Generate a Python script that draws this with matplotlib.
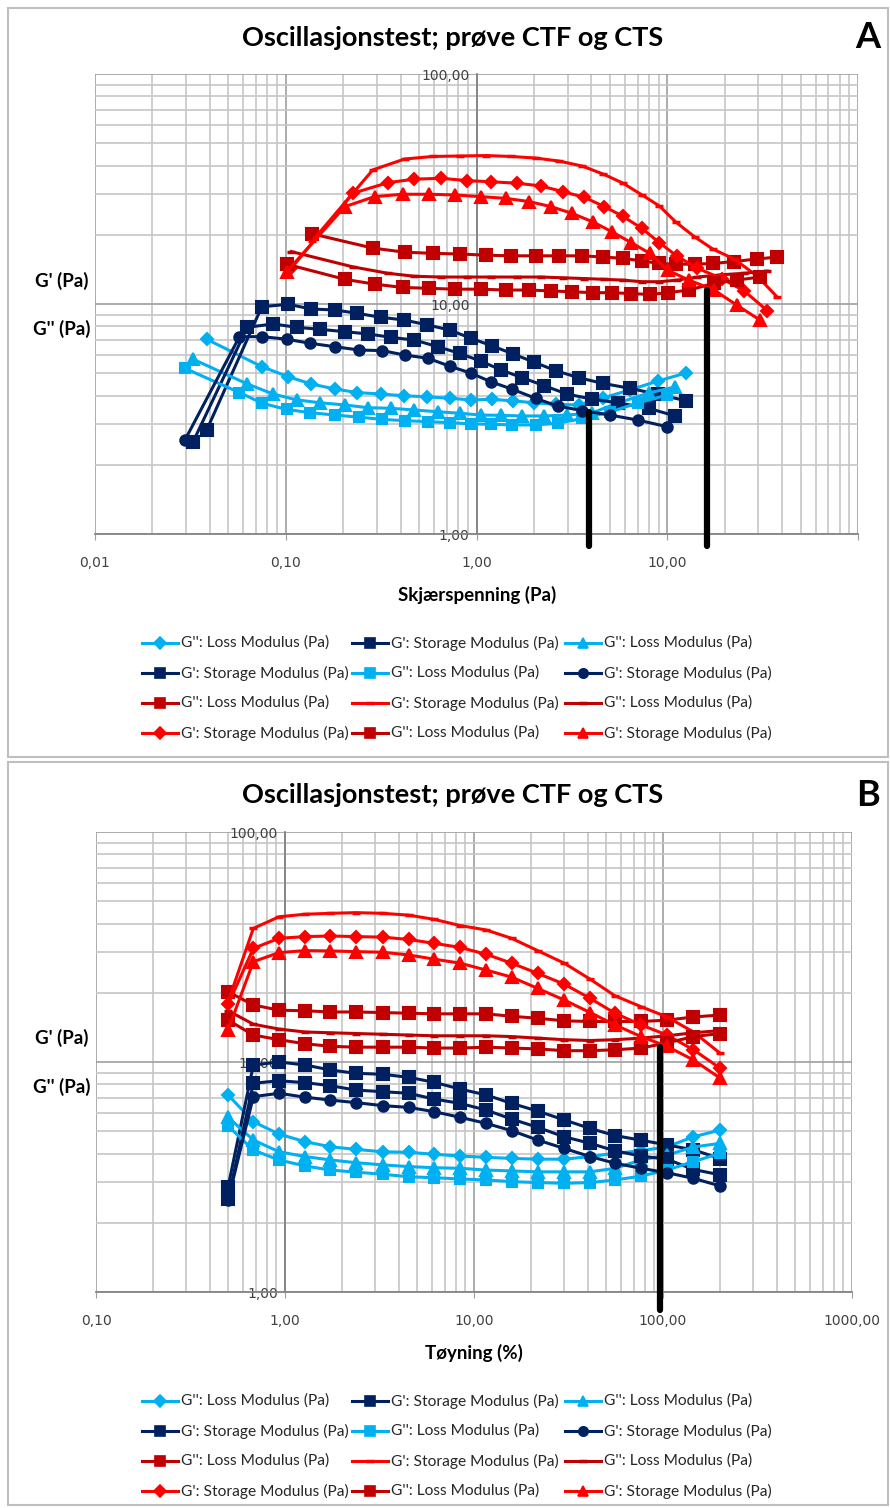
import matplotlib
matplotlib.use("Agg")
import matplotlib.pyplot as plt
from matplotlib.lines import Line2D
from matplotlib.patches import Rectangle
from matplotlib.ticker import LogLocator, FuncFormatter, NullFormatter

# ---------------- data: panel A (shear stress sweep) ----------------
a_x1 = [0.0385, 0.0749, 0.103, 0.136, 0.181, 0.237, 0.316, 0.418, 0.553, 0.722,
        0.938, 1.21, 1.56, 2.01, 2.60, 3.44, 4.58, 6.36, 8.90, 12.5]
a_loss1 = [7.03, 5.34, 4.83, 4.49, 4.27, 4.12, 4.06, 3.99, 3.95, 3.89,
           3.83, 3.85, 3.79, 3.72, 3.66, 3.64, 3.90, 4.23, 4.62, 5.01]
a_stor1 = [2.83, 9.73, 9.97, 9.51, 9.42, 9.11, 8.75, 8.52, 8.11, 7.71,
           7.09, 6.57, 6.06, 5.58, 5.13, 4.78, 4.52, 4.30, 4.05, 3.80]

a_x2 = [0.0327, 0.0629, 0.0859, 0.114, 0.151, 0.204, 0.270, 0.357, 0.473, 0.627,
        0.815, 1.05, 1.35, 1.74, 2.27, 2.98, 4.03, 5.49, 7.98, 11.0]
a_loss2 = [5.75, 4.49, 4.06, 3.83, 3.72, 3.64, 3.54, 3.52, 3.46, 3.40,
           3.35, 3.29, 3.28, 3.26, 3.26, 3.29, 3.36, 3.71, 4.10, 4.36]
a_stor2 = [2.52, 7.92, 8.19, 7.92, 7.76, 7.58, 7.41, 7.16, 6.97, 6.52,
           6.10, 5.65, 5.16, 4.78, 4.41, 4.06, 3.86, 3.72, 3.52, 3.26]

a_x3 = [0.0296, 0.0572, 0.0755, 0.101, 0.134, 0.181, 0.242, 0.321, 0.420, 0.556,
        0.722, 0.938, 1.19, 1.54, 2.04, 2.66, 3.58, 5.01, 6.99, 9.96]
a_loss3 = [5.25, 4.12, 3.70, 3.48, 3.37, 3.29, 3.22, 3.15, 3.11, 3.08,
           3.05, 3.01, 3.00, 2.98, 2.98, 3.03, 3.18, 3.39, 3.71, 4.02]
a_stor3 = [2.56, 7.21, 7.21, 7.03, 6.75, 6.52, 6.31, 6.27, 6.00, 5.81,
           5.37, 5.00, 4.59, 4.26, 3.89, 3.60, 3.44, 3.29, 3.13, 2.93]

a_x4 = [0.137, 0.286, 0.420, 0.590, 0.818, 1.12, 1.52, 2.05, 2.72, 3.58,
        4.62, 5.83, 7.37, 9.08, 11.1, 13.9, 17.4, 22.4, 29.7, 37.8]
a_loss4 = [20.2, 17.5, 16.8, 16.6, 16.5, 16.3, 16.2, 16.2, 16.2, 16.2,
           16.0, 15.8, 15.4, 15.0, 14.9, 14.9, 15.0, 15.3, 15.7, 16.0]
a_stor4 = [18.7, 38.3, 42.7, 43.8, 44.0, 44.2, 43.8, 43.1, 41.8, 39.8,
           36.7, 33.6, 29.8, 26.7, 22.7, 19.6, 17.3, 15.7, 13.2, 10.7]

a_x5 = [0.107, 0.225, 0.343, 0.473, 0.653, 0.890, 1.19, 1.63, 2.18, 2.83,
        3.68, 4.68, 5.83, 7.37, 9.08, 11.3, 14.4, 19.3, 25.3, 33.5]
a_loss5 = [16.9, 14.5, 13.6, 13.2, 13.1, 13.1, 13.1, 13.1, 13.1, 13.0,
           12.9, 12.8, 12.7, 12.5, 12.5, 12.7, 13.1, 13.4, 13.6, 13.9]
a_stor5 = [14.3, 30.3, 33.7, 34.9, 35.2, 34.4, 34.0, 33.5, 32.6, 30.8,
           29.1, 26.5, 24.1, 21.3, 18.5, 16.1, 14.3, 12.9, 11.4, 9.35]

a_x6 = [0.101, 0.204, 0.292, 0.410, 0.564, 0.767, 1.05, 1.42, 1.88, 2.46,
        3.16, 4.10, 5.13, 6.46, 8.10, 10.1, 13.0, 17.6, 23.1, 30.6]
a_loss6 = [14.9, 12.8, 12.2, 11.8, 11.7, 11.6, 11.6, 11.5, 11.5, 11.4,
           11.3, 11.2, 11.2, 11.1, 11.0, 11.2, 11.5, 12.3, 12.7, 13.1]
a_stor6 = [13.8, 26.5, 29.3, 30.0, 30.0, 29.8, 29.3, 28.8, 27.9, 26.5,
           24.8, 22.7, 20.6, 18.5, 16.6, 14.0, 12.7, 11.5, 9.90, 8.52]

# crossover markers (x position, top of the bar)
a_cross_x = [3.9, 16.2]
a_cross_top = [3.4, 11.5]

# ---------------- data: panel B (strain) ----------------
b_x = [0.50, 0.68, 0.93, 1.28, 1.74, 2.37, 3.29, 4.51, 6.16, 8.43,
       11.6, 15.8, 21.7, 30.0, 41.2, 55.7, 76.5, 105, 145, 201]
b_loss1 = [7.19, 5.50, 4.86, 4.50, 4.28, 4.17, 4.07, 4.05, 3.97, 3.90,
           3.85, 3.81, 3.78, 3.78, 3.88, 4.01, 4.11, 4.28, 4.73, 5.06]
b_stor1 = [2.87, 9.70, 10.0, 9.70, 9.23, 8.93, 8.84, 8.58, 8.16, 7.63,
           7.19, 6.61, 6.12, 5.60, 5.14, 4.79, 4.57, 4.36, 4.15, 3.80]
b_loss2 = [5.75, 4.58, 4.07, 3.88, 3.75, 3.65, 3.57, 3.51, 3.47, 3.45,
           3.39, 3.36, 3.33, 3.33, 3.33, 3.45, 3.75, 3.94, 4.27, 4.43]
b_stor2 = [2.53, 8.08, 8.29, 8.13, 7.89, 7.55, 7.43, 7.31, 6.90, 6.61,
           6.18, 5.65, 5.20, 4.73, 4.43, 4.11, 3.90, 3.78, 3.41, 3.23]
b_loss3 = [5.27, 4.14, 3.75, 3.53, 3.39, 3.32, 3.25, 3.17, 3.14, 3.10,
           3.07, 3.02, 2.99, 2.97, 2.99, 3.07, 3.19, 3.39, 3.69, 4.01]
b_stor3 = [2.51, 7.07, 7.31, 7.03, 6.83, 6.66, 6.46, 6.35, 6.08, 5.75,
           5.41, 5.03, 4.58, 4.21, 3.88, 3.63, 3.45, 3.30, 3.12, 2.89]
b_loss4 = [20.2, 17.7, 16.8, 16.7, 16.5, 16.5, 16.4, 16.3, 16.2, 16.2,
           16.2, 15.8, 15.5, 15.1, 15.0, 15.0, 15.0, 15.2, 15.7, 16.0]
b_stor4 = [18.3, 38.1, 42.8, 43.9, 44.3, 44.6, 44.3, 43.5, 41.7, 39.2,
           37.5, 34.5, 30.5, 26.9, 22.9, 19.4, 17.4, 15.7, 13.5, 10.9]
b_loss5 = [16.7, 14.6, 13.9, 13.5, 13.4, 13.3, 13.2, 13.1, 13.0, 13.0,
           13.0, 12.9, 12.7, 12.5, 12.4, 12.5, 12.7, 13.0, 13.4, 13.7]
b_stor5 = [17.8, 31.2, 34.5, 35.1, 35.3, 35.1, 34.9, 34.1, 32.8, 31.5,
           29.4, 26.9, 24.3, 21.8, 18.9, 16.3, 14.5, 13.1, 11.3, 9.39]
b_loss6 = [15.2, 13.1, 12.5, 12.0, 11.7, 11.6, 11.6, 11.6, 11.5, 11.5,
           11.6, 11.5, 11.4, 11.2, 11.2, 11.3, 11.5, 12.1, 12.9, 13.3]
b_stor6 = [13.8, 27.3, 29.9, 30.5, 30.4, 30.2, 30.0, 29.2, 28.0, 26.9,
           25.1, 23.4, 20.9, 18.6, 16.4, 14.5, 12.9, 11.7, 10.2, 8.50]

b_cross_x = [96.0]
b_cross_top = [11.6]

LOSS = "G'': Loss Modulus (Pa)"
STOR = "G': Storage Modulus (Pa)"
legend_labels = [LOSS, STOR, LOSS, STOR, LOSS, STOR,
                 LOSS, STOR, LOSS, STOR, LOSS, STOR]

title_text = "Oscillasjonstest; prøve CTF og CTS"

# ---------------- styling ----------------
W, H = 890, 1508
plt.rcParams['font.family'] = ['DejaVu Sans']
fig = plt.figure(figsize=(W / 100, H / 100), dpi=100)
fig.patch.set_facecolor('white')


def fx(px):
    return px / W


def fy(py):
    return 1 - py / H


CYAN, NAVY, DRED, RED = '#00B0F0', '#002060', '#C00000', '#FF0000'
STYLES = [(CYAN, 'D', 6.5), (NAVY, 's', 8.5), (CYAN, '^', 8.0),
          (NAVY, 's', 8.5), (CYAN, 's', 7.5), (NAVY, 'o', 7.5),
          (DRED, 's', 8.5), (RED, '_', 6.0), (DRED, '_', 6.0),
          (RED, 'D', 6.5), (DRED, 's', 8.5), (RED, '^', 8.5)]
LW = 2.2
UI_FONT = ['Lato', 'DejaVu Sans']


def comma_fmt(v, pos):
    return f"{v:.2f}".replace('.', ',')


def make_axes(px_box, xlim, ylim, skip_x_labels=()):
    left, top, right, bottom = px_box
    ax = fig.add_axes([fx(left), fy(bottom), fx(right) - fx(left),
                       fy(top) - fy(bottom)])
    ax.set_xscale('log')
    ax.set_yscale('log')
    ax.set_xlim(xlim)
    ax.set_ylim(ylim)
    for axis in (ax.xaxis, ax.yaxis):
        axis.set_major_locator(LogLocator(base=10, numticks=20))
        axis.set_minor_locator(LogLocator(base=10, subs=range(2, 10), numticks=200))
        axis.set_minor_formatter(NullFormatter())
    ax.xaxis.set_major_formatter(FuncFormatter(
        lambda v, p: '' if any(abs(v - s) < 1e-9 * s for s in skip_x_labels)
        else comma_fmt(v, p)))
    ax.yaxis.set_major_formatter(FuncFormatter(comma_fmt))
    ax.grid(which='major', color='#9e9e9e', lw=1.2)
    ax.grid(which='minor', color='#c6c6c6', lw=1.2)
    ax.set_axisbelow(True)
    ax.spines['top'].set_visible(False)
    ax.spines['right'].set_visible(False)
    ax.spines['left'].set_position(('data', 1.0))
    for s in ('left', 'bottom'):
        ax.spines[s].set_color('#858585')
        ax.spines[s].set_linewidth(1.3)
    ax.tick_params(which='minor', length=0)
    ax.tick_params(axis='x', which='major', length=4, color='#9e9e9e',
                   pad=12, labelsize=10, labelcolor='#404040')
    ax.tick_params(axis='y', which='major', length=0, pad=5,
                   labelsize=10, labelcolor='#404040')
    ax.patch.set_alpha(0)
    return ax


def draw_series(ax, series):
    for (x, y), (c, m, ms) in zip(series, STYLES):
        ax.plot(x, y, color=c, lw=LW, marker=m, ms=ms, mfc=c, mec=c,
                mew=1.5 if m != '_' else 2.5, clip_on=False, zorder=3)


def draw_cross(ax, xs, tops, bottom):
    for x, t in zip(xs, tops):
        ax.plot([x, x], [t, bottom], color='black', lw=4.5,
                solid_capstyle='round', clip_on=False, zorder=5)


def draw_legend(rows_y):
    cols_x = [142, 352, 565]
    for i, (lab, (c, m, ms)) in enumerate(zip(legend_labels, STYLES)):
        r, k = divmod(i, 3)
        x0, y = cols_x[k], rows_y[r]
        fig.add_artist(Line2D([fx(x0), fx(x0 + 18), fx(x0 + 36)], [fy(y)] * 3,
                              transform=fig.transFigure, color=c, lw=LW,
                              marker=m, markevery=[1], ms=ms * 0.9, mfc=c, mec=c,
                              mew=1.2 if m != '_' else 2.5))
        fig.text(fx(x0 + 39), fy(y), lab, family=UI_FONT, fontsize=11.2,
                 ha='left', va='center', color='#262626')


def draw_frame(top, bottom):
    fig.add_artist(Rectangle((fx(8), fy(bottom)), fx(888) - fx(8),
                             fy(top) - fy(bottom), transform=fig.transFigure,
                             fill=False, edgecolor='#bfbfbf', lw=1.5))


def panel_text(title_y, letter, ylab_y, xlab, xlab_pos):
    fig.text(fx(453), fy(title_y), title_text, family=UI_FONT, weight='bold',
             fontsize=19.5, ha='center', va='center', color='black')
    fig.text(fx(868), fy(title_y), letter, family=UI_FONT, weight='bold',
             fontsize=26, ha='center', va='center', color='black')
    fig.text(fx(62), fy(ylab_y[0]), "G' (Pa)", family=UI_FONT, weight='bold',
             fontsize=13.5, ha='center', va='center', color='black')
    fig.text(fx(62), fy(ylab_y[1]), "G'' (Pa)", family=UI_FONT, weight='bold',
             fontsize=13.5, ha='center', va='center', color='black')
    fig.text(fx(xlab_pos[0]), fy(xlab_pos[1]), xlab, family=UI_FONT,
             weight='bold', fontsize=13.5, ha='center', va='center',
             color='black')


# ---------------- panel A ----------------
draw_frame(8, 757)
axA = make_axes((95, 74, 858, 534), (0.01, 100), (1, 100), skip_x_labels=(100,))
draw_series(axA, [(a_x1, a_loss1), (a_x1, a_stor1), (a_x2, a_loss2),
                  (a_x2, a_stor2), (a_x3, a_loss3), (a_x3, a_stor3),
                  (a_x4, a_loss4), (a_x4, a_stor4), (a_x5, a_loss5),
                  (a_x5, a_stor5), (a_x6, a_loss6), (a_x6, a_stor6)])
draw_cross(axA, a_cross_x, a_cross_top, 0.89)
panel_text(38, 'A', (281, 329), 'Skjærspenning (Pa)', (477, 595))
draw_legend([643, 673, 703, 733])

# ---------------- panel B ----------------
draw_frame(762, 1505)
axB = make_axes((96, 832, 852, 1292), (0.1, 1000), (1, 100))
draw_series(axB, [(b_x, b_loss1), (b_x, b_stor1), (b_x, b_loss2),
                  (b_x, b_stor2), (b_x, b_loss3), (b_x, b_stor3),
                  (b_x, b_loss4), (b_x, b_stor4), (b_x, b_loss5),
                  (b_x, b_stor5), (b_x, b_loss6), (b_x, b_stor6)])
draw_cross(axB, b_cross_x, b_cross_top, 0.835)
panel_text(795, 'B', (1038, 1087), 'Tøyning (%)', (474, 1353))
draw_legend([1401, 1431, 1461, 1491])

fig.savefig('out.png', dpi=100)
